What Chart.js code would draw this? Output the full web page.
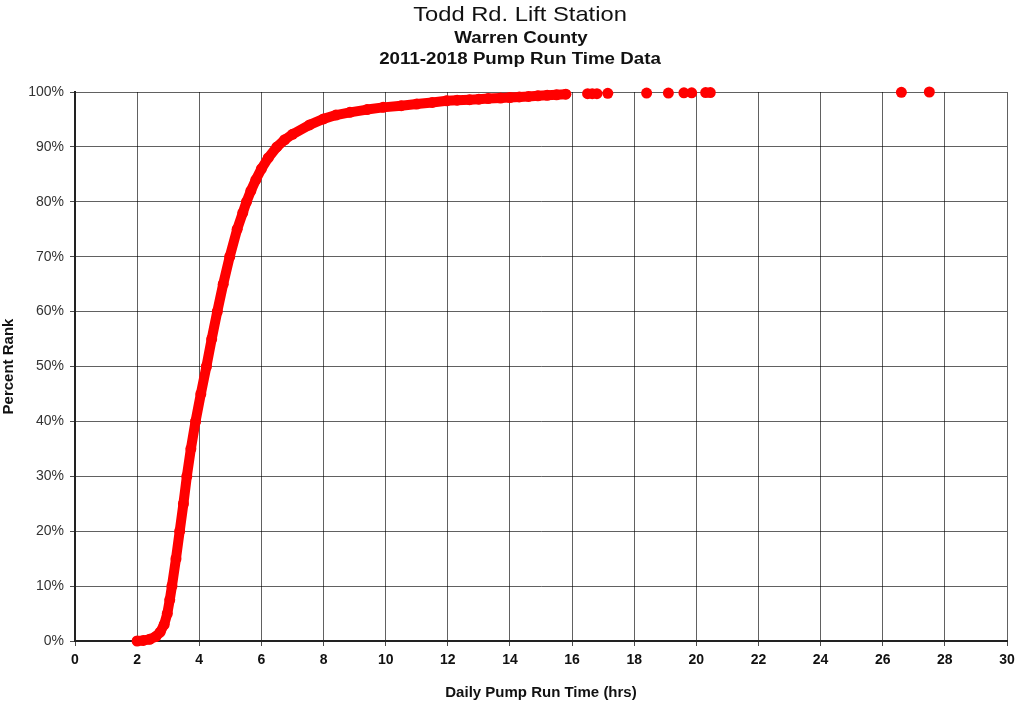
<!DOCTYPE html>
<html>
<head>
<meta charset="utf-8">
<script src="https://cdn.jsdelivr.net/npm/chart.js@4"></script>
<style>
html,body{margin:0;padding:0;background:#fff;}
#wrap{width:1019px;height:702px;position:relative;}
</style>
</head>
<body>
<div id="wrap"><canvas id="c" width="1019" height="702"></canvas></div>
<script>
// Titles
const titleMain = "Todd Rd. Lift Station";
const titleSub1 = "Warren County";
const titleSub2 = "2011-2018 Pump Run Time Data";
const xAxisTitle = "Daily Pump Run Time (hrs)";
const yAxisTitle = "Percent Rank";

// Main cumulative curve (hrs, percent rank)
const curveX = [2.0, 2.2, 2.4, 2.6, 2.74, 2.87, 2.97, 3.05, 3.12, 3.25, 3.37, 3.49, 3.6, 3.73, 3.88, 4.05, 4.23, 4.4, 4.58, 4.77, 4.98, 5.22, 5.4, 5.52, 5.66, 5.82, 6.0, 6.22, 6.5, 6.75, 7.0, 7.55, 8.0, 8.4, 8.85, 9.4, 9.92, 10.5, 11.0, 11.5, 11.96, 12.3, 12.7, 13.0, 13.3, 13.7, 14.0, 14.3, 14.6, 14.9, 15.2, 15.5, 15.8];
const curveY = [0.0, 0.1, 0.3, 0.8, 1.6, 3.0, 5.0, 7.5, 10.0, 15.0, 20.0, 25.0, 30.0, 35.0, 40.0, 45.0, 50.0, 55.0, 60.0, 65.0, 70.0, 75.0, 78.0, 80.0, 82.0, 84.0, 86.0, 88.0, 90.0, 91.3, 92.3, 94.0, 95.1, 95.8, 96.3, 96.8, 97.2, 97.5, 97.8, 98.1, 98.4, 98.5, 98.6, 98.7, 98.8, 98.9, 99.0, 99.1, 99.2, 99.3, 99.4, 99.5, 99.6];

// Isolated high run-time days
const outlierX = [16.5, 16.65, 16.8, 17.15, 18.4, 19.1, 19.6, 19.85, 20.3, 20.45, 26.6, 27.5];
const outlierY = [99.7, 99.7, 99.7, 99.75, 99.8, 99.8, 99.85, 99.85, 99.9, 99.9, 99.95, 100.0];

// Axis ticks
const xTicks = [0, 2, 4, 6, 8, 10, 12, 14, 16, 18, 20, 22, 24, 26, 28, 30];
const yTicks = [0, 10, 20, 30, 40, 50, 60, 70, 80, 90, 100];

const FONT = "'Liberation Sans', Arial, Helvetica, sans-serif";
const RED = '#ff0000';

const curveData = curveX.map((x, i) => ({x: x, y: curveY[i]}));
const outlierData = outlierX.map((x, i) => ({x: x, y: outlierY[i]}));

function wideText(ctx, text, cx, baseline, font, sx) {
  ctx.save();
  ctx.font = font;
  ctx.translate(cx, baseline);
  ctx.scale(sx, 1);
  ctx.textAlign = 'center';
  ctx.textBaseline = 'alphabetic';
  ctx.fillText(text, 0, 0);
  ctx.restore();
}

const titlePlugin = {
  id: 'titles',
  afterDraw(chart) {
    const ctx = chart.ctx;
    ctx.save();
    ctx.fillStyle = '#111';
    wideText(ctx, titleMain, 520, 21, '21px ' + FONT, 1.13);
    wideText(ctx, titleSub1, 521, 43, 'bold 16px ' + FONT, 1.17);
    wideText(ctx, titleSub2, 520, 64, 'bold 16px ' + FONT, 1.17);
    ctx.restore();
  }
};

new Chart(document.getElementById('c'), {
  type: 'scatter',
  data: {
    datasets: [
      {
        label: 'curve',
        data: curveData,
        showLine: true,
        clip: false,
        borderColor: RED,
        backgroundColor: RED,
        borderWidth: 10,
        borderCapStyle: 'round',
        borderJoinStyle: 'round',
        pointRadius: 5.5,
        pointBorderWidth: 0,
        tension: 0
      },
      {
        label: 'outliers',
        data: outlierData,
        showLine: false,
        clip: false,
        backgroundColor: RED,
        borderColor: RED,
        pointRadius: 5.5,
        pointBorderWidth: 0
      }
    ]
  },
  options: {
    responsive: false,
    animation: false,
    events: [],
    layout: {padding: {top: 92, right: 12, left: 0, bottom: 0}},
    plugins: {
      legend: {display: false},
      title: {display: false},
      tooltip: {enabled: false}
    },
    scales: {
      x: {
        type: 'linear',
        min: 0, max: 30,
        afterBuildTicks: (s) => { s.ticks = xTicks.map(v => ({value: v})); },
        afterFit: (s) => { s.height = 61; s.paddingRight = 0; s.paddingLeft = 0; },
        ticks: {
          color: '#111',
          font: {family: FONT, size: 14, weight: 'bold'},
          padding: 6,
          maxRotation: 0
        },
        grid: {color: 'rgba(0,0,0,0.62)', lineWidth: 1, tickLength: 5, tickColor: 'rgba(0,0,0,0.7)'},
        border: {color: '#222', width: 2},
        title: {display: true, text: xAxisTitle, color: '#111', font: {family: FONT, size: 15, weight: 'bold'}, padding: {top: 6, bottom: 0}}
      },
      y: {
        type: 'linear',
        min: 0, max: 100,
        afterBuildTicks: (s) => { s.ticks = yTicks.map(v => ({value: v})); },
        afterFit: (s) => { s.width = 75; },
        ticks: {
          color: '#333',
          font: {family: FONT, size: 14},
          padding: 6,
          callback: (v) => v + '%'
        },
        grid: {color: 'rgba(0,0,0,0.62)', lineWidth: 1, tickLength: 5, tickColor: 'rgba(0,0,0,0.7)'},
        border: {color: '#222', width: 2},
        title: {display: true, text: yAxisTitle, color: '#111', font: {family: FONT, size: 15, weight: 'bold'}, padding: {top: 0, bottom: 2}}
      }
    }
  },
  plugins: [titlePlugin]
});
</script>
</body>
</html>
